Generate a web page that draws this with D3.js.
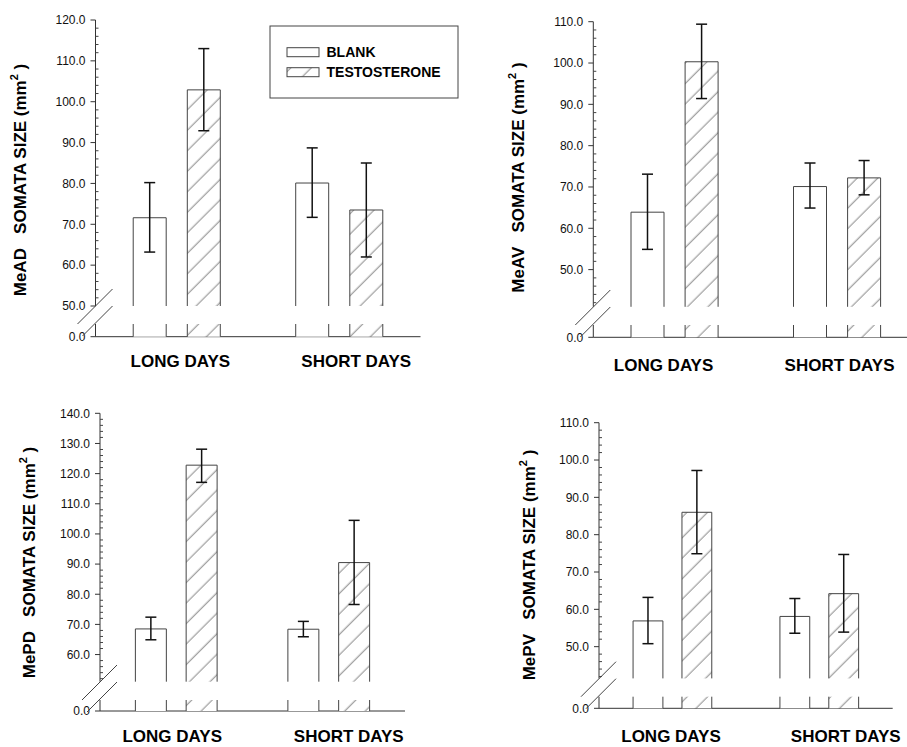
<!DOCTYPE html>
<html>
<head>
<meta charset="utf-8">
<script src="https://cdn.jsdelivr.net/npm/d3@7"></script>
<style>
  body { margin: 0; background: #fff; }
  svg { display: block; font-family: "Liberation Sans", Arial, sans-serif; }
  text { white-space: pre; }
</style>
</head>
<body>
<script>
// data
const regions = ["MeAD", "MeAV", "MePD", "MePV"];
const categories = ["LONG DAYS", "SHORT DAYS"];
const treatments = ["BLANK", "TESTOSTERONE"];

// order in each array: LD blank, LD testosterone, SD blank, SD testosterone
const meanMeAD = [71.6, 102.9, 80.1, 73.5];
const lowMeAD  = [63.2, 92.9, 71.7, 62.0];
const highMeAD = [80.2, 113.0, 88.7, 85.0];

const meanMeAV = [63.9, 100.3, 70.1, 72.2];
const lowMeAV  = [54.9, 91.4, 64.9, 68.1];
const highMeAV = [73.1, 109.4, 75.8, 76.4];

const meanMePD = [68.5, 122.8, 68.4, 90.5];
const lowMePD  = [64.9, 117.1, 65.9, 76.6];
const highMePD = [72.4, 128.1, 71.0, 104.5];

const meanMePV = [56.9, 86.0, 58.1, 64.2];
const lowMePV  = [50.8, 74.9, 53.6, 53.9];
const highMePV = [63.2, 97.2, 62.9, 74.7];

const ticksMeAD = [50, 60, 70, 80, 90, 100, 110, 120];
const ticksMeAV = [50, 60, 70, 80, 90, 100, 110];
const ticksMePD = [60, 70, 80, 90, 100, 110, 120, 130, 140];
const ticksMePV = [50, 60, 70, 80, 90, 100, 110];

// lowest value shown above the axis break
const breakAt = [50, 41, 51, 41.5];

const means = [meanMeAD, meanMeAV, meanMePD, meanMePV];
const lows = [lowMeAD, lowMeAV, lowMePD, lowMePV];
const highs = [highMeAD, highMeAV, highMePD, highMePV];
const ticks = [ticksMeAD, ticksMeAV, ticksMePD, ticksMePV];

// panel layout
const layout = [
  { ax: 95.5, xLen: 325, yBreak: 306, yTop: 20, yBot: 324, axisY: 336.7,
    labX: 26, labY: 180, xLabY: 367, xLabDx: [3.6, 17] },
  { ax: 593.3, xLen: 325, yBreak: 306.8, yTop: 21.7, yBot: 325, axisY: 337.3,
    labX: 524, labY: 177.5, xLabY: 371, xLabDx: [-11, 2.5] },
  { ax: 100, xLen: 305, yBreak: 681.7, yTop: 413.3, yBot: 700, axisY: 711,
    labX: 35, labY: 562.5, xLabY: 742, xLabDx: [-4, 20] },
  { ax: 599, xLen: 293.7, yBreak: 678.4, yTop: 422.7, yBot: 696.7, axisY: 708.3,
    labX: 535, labY: 565, xLabY: 742, xLabDx: [-1.4, 26.5] }
];

const svg = d3.select("body").append("svg")
    .attr("width", 907)
    .attr("height", 747);

const defs = svg.append("defs");
const pat = defs.append("pattern")
    .attr("id", "hatch")
    .attr("patternUnits", "userSpaceOnUse")
    .attr("width", 14.5)
    .attr("height", 14.5)
    .attr("patternTransform", "rotate(45)");
pat.append("rect").attr("width", 14.5).attr("height", 14.5).attr("fill", "#fff");
pat.append("line")
    .attr("x1", 7).attr("y1", 0).attr("x2", 7).attr("y2", 14.5)
    .attr("stroke", "#555").attr("stroke-width", 0.7);

const fmt = d3.format(".1f");

regions.forEach(function (region, p) {
  const L = layout[p];
  const g = svg.append("g");
  const tk = ticks[p];
  const y = d3.scaleLinear()
      .domain([breakAt[p], d3.max(tk)])
      .range([L.yBreak, L.yTop]);

  const x0 = d3.scaleBand().domain(categories).range([L.ax, L.ax + L.xLen]);
  const x1 = d3.scaleBand().domain(treatments)
      .range([0, x0.bandwidth()])
      .paddingInner(0.39)
      .paddingOuter(0.697);

  // y axis (broken)
  g.append("line")
      .attr("x1", L.ax).attr("x2", L.ax)
      .attr("y1", y(d3.max(tk))).attr("y2", L.yBreak)
      .attr("stroke", "#333");
  g.append("line")
      .attr("x1", L.ax).attr("x2", L.ax)
      .attr("y1", L.yBot).attr("y2", L.axisY)
      .attr("stroke", "#333");

  // x axis
  g.append("line")
      .attr("x1", L.ax).attr("x2", L.ax + L.xLen)
      .attr("y1", L.axisY).attr("y2", L.axisY)
      .attr("stroke", "#333");

  // major ticks
  g.selectAll(".major").data(tk).join("line")
      .attr("x1", L.ax - 5).attr("x2", L.ax)
      .attr("y1", d => y(d)).attr("y2", d => y(d))
      .attr("stroke", "#333");
  g.selectAll(".tl").data(tk).join("text")
      .attr("x", L.ax - 10)
      .attr("y", d => y(d))
      .attr("dy", "0.36em")
      .attr("text-anchor", "end")
      .attr("font-size", 12)
      .attr("fill", "#111")
      .text(d => fmt(d));

  // minor ticks every 2 units
  const minor = d3.range(Math.ceil(breakAt[p] / 2) * 2, d3.max(tk), 2)
      .filter(d => d % 10 !== 0);
  g.selectAll(".minor").data(minor).join("line")
      .attr("x1", L.ax).attr("x2", L.ax + 3)
      .attr("y1", d => y(d)).attr("y2", d => y(d))
      .attr("stroke", "#444");

  // zero tick and label
  g.append("line")
      .attr("x1", L.ax - 5).attr("x2", L.ax)
      .attr("y1", L.axisY).attr("y2", L.axisY)
      .attr("stroke", "#333");
  g.append("text")
      .attr("x", L.ax - 10)
      .attr("y", L.axisY)
      .attr("dy", "0.36em")
      .attr("text-anchor", "end")
      .attr("font-size", 12)
      .attr("fill", "#111")
      .text(fmt(0));

  // break marks
  [[-18, 0, 17, -35], [-13, 12, 17, -18]].forEach(function (s) {
    g.append("line")
        .attr("x1", L.ax + s[0]).attr("y1", L.yBot + s[1])
        .attr("x2", L.ax + s[2]).attr("y2", L.yBot + s[3])
        .attr("stroke", "#444");
  });

  // bars
  const rows = means[p].map(function (m, i) {
    return { cat: categories[i >> 1], tr: treatments[i & 1],
             mean: m, low: lows[p][i], high: highs[p][i] };
  });

  rows.forEach(function (d) {
    const bx = x0(d.cat) + x1(d.tr);
    const bw = x1.bandwidth();
    const fill = d.tr === "TESTOSTERONE" ? "url(#hatch)" : "#fff";
    g.append("rect")
        .attr("x", bx).attr("y", y(d.mean))
        .attr("width", bw).attr("height", L.yBreak - y(d.mean))
        .attr("fill", fill);
    g.append("rect")
        .attr("x", bx).attr("y", L.yBot)
        .attr("width", bw).attr("height", L.axisY - L.yBot)
        .attr("fill", fill);
    g.append("path")
        .attr("d", "M" + bx + "," + L.axisY + "V" + L.yBot +
                   "M" + bx + "," + L.yBreak + "V" + y(d.mean) + "H" + (bx + bw) +
                   "V" + L.yBreak + "M" + (bx + bw) + "," + L.yBot + "V" + L.axisY)
        .attr("fill", "none")
        .attr("stroke", "#444")
        .attr("stroke-width", 1);

    // error bar
    const cx = bx + bw / 2;
    g.append("line")
        .attr("x1", cx).attr("x2", cx)
        .attr("y1", y(d.low)).attr("y2", y(d.high))
        .attr("stroke", "#111").attr("stroke-width", 1.5);
    [d.low, d.high].forEach(function (v) {
      g.append("line")
          .attr("x1", cx - 5.5).attr("x2", cx + 5.5)
          .attr("y1", y(v)).attr("y2", y(v))
          .attr("stroke", "#111").attr("stroke-width", 1.5);
    });
  });

  // category labels
  categories.forEach(function (c, k) {
    g.append("text")
        .attr("x", x0(c) + x0.bandwidth() / 2 + L.xLabDx[k])
        .attr("y", L.xLabY)
        .attr("text-anchor", "middle")
        .attr("font-size", 17)
        .attr("font-weight", "bold")
        .attr("fill", "#000")
        .text(c);
  });

  // y axis label
  const yl = g.append("text")
      .attr("transform", "translate(" + L.labX + "," + L.labY + ") rotate(-90)")
      .attr("text-anchor", "middle")
      .attr("font-size", 17)
      .attr("font-weight", "bold")
      .attr("fill", "#000");
  yl.append("tspan").text(region + "   SOMATA SIZE (mm");
  yl.append("tspan").attr("dy", -8).attr("font-size", 11).text("2");
  yl.append("tspan").attr("dy", 8).text(" )");
});

// legend (top-left panel)
const lg = svg.append("g");
lg.append("rect")
    .attr("x", 270).attr("y", 26)
    .attr("width", 188).attr("height", 72)
    .attr("fill", "#fff")
    .attr("stroke", "#444");
treatments.forEach(function (t, i) {
  lg.append("rect")
      .attr("x", 287).attr("y", 47.7 + i * 20)
      .attr("width", 32).attr("height", 9)
      .attr("fill", t === "TESTOSTERONE" ? "url(#hatch)" : "#fff")
      .attr("stroke", "#444");
  lg.append("text")
      .attr("x", 326.5).attr("y", 56.8 + i * 20)
      .attr("font-size", 14)
      .attr("font-weight", "bold")
      .attr("fill", "#000")
      .text(t);
});
</script>
</body>
</html>
